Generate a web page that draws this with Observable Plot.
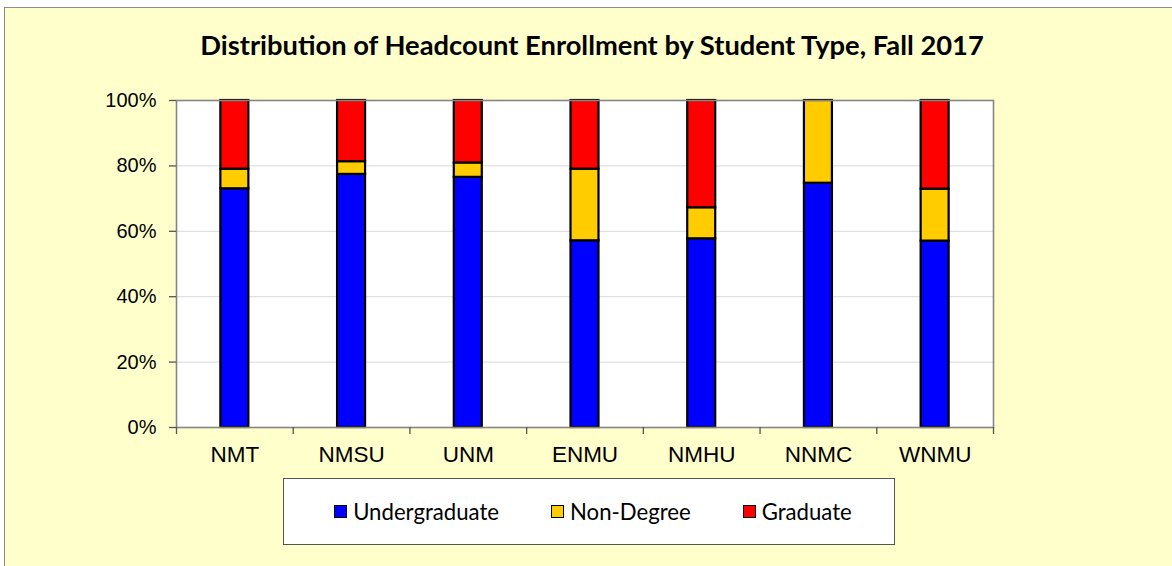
<!DOCTYPE html>
<html>
<head>
<meta charset="utf-8">
<script src="https://cdn.jsdelivr.net/npm/d3@7"></script>
<script src="https://cdn.jsdelivr.net/npm/@observablehq/plot@0.6"></script>
<style>
  html, body { margin: 0; padding: 0; background: #ffffff; }
  #page { position: relative; width: 1172px; height: 566px; overflow: hidden; }
  #panel { position: absolute; left: 4px; top: 7px; width: 1180px; height: 580px;
           background: #FFFFCC; border: 1px solid #8c8c8c; box-sizing: border-box; }
  #title { position: absolute; top: 31px; left: 592px; transform: translateX(-50%);
           white-space: nowrap; font-family: Lato, "Open Sans", sans-serif; font-weight: bold;
           font-size: 24px; color: #000; line-height: 1; }
  #chart { position: absolute; left: 0; top: 70px; }
  #legend { position: absolute; left: 283px; top: 478px; width: 612px; height: 67px;
            box-sizing: border-box; background: #fff; border: 1px solid #555;
            display: flex; align-items: center; justify-content: center; gap: 52px; padding-left: 8px;
            font-family: Lato, "Open Sans", sans-serif; font-size: 21px; color: #000; }
  .item { display: flex; align-items: center; white-space: nowrap; }
  .sw { width: 11px; height: 11px; border: 1.8px solid #000; margin-right: 6px; }
</style>
</head>
<body>
<div id="page">
  <div id="panel"></div>
  <div id="title"></div>
  <div id="chart"></div>
  <div id="legend"></div>
</div>
<script>
const titleText = "Distribution of Headcount Enrollment by Student Type, Fall 2017";
const schools = ["NMT", "NMSU", "UNM", "ENMU", "NMHU", "NNMC", "WNMU"];
const seriesNames = ["Undergraduate", "Non-Degree", "Graduate"];
const seriesColors = ["#0000FF", "#FFCC00", "#FF0000"];
const undergraduate = [73.0, 77.4, 76.5, 57.1, 57.7, 74.7, 57.0];
const nonDegree     = [6.0, 3.9, 4.4, 21.9, 9.5, 25.3, 15.9];
const graduate      = [21.0, 18.7, 19.1, 21.0, 32.8, 0.0, 27.1];
const yTicks = [0, 20, 40, 60, 80, 100];

const seriesValues = [undergraduate, nonDegree, graduate];
const rows = [];
schools.forEach((s, i) => {
  seriesNames.forEach((name, k) => {
    const v = seriesValues[k][i];
    if (v > 0) rows.push({school: s, type: name, value: v});
  });
});

const W = 1172, H = 407;
const mL = 176, mR = 179, mT = 30, mB = 50;
const step = (W - mL - mR) / schools.length;
const inset = (step - 28) / 2;

const chart = Plot.plot({
  width: W, height: H,
  marginLeft: mL, marginRight: mR, marginTop: mT, marginBottom: mB,
  style: {fontFamily: "'Liberation Sans', Arial, sans-serif", fontSize: "20px", fontWeight: "normal", background: "transparent", overflow: "visible", color: "#000"},
  x: {domain: schools, padding: 0, round: false, label: null},
  y: {domain: [0, 100], label: null},
  color: {domain: seriesNames, range: seriesColors},
  marks: [
    Plot.frame({fill: "white", stroke: "none"}),
    Plot.gridY(yTicks, {stroke: "#d9d9d9", strokeOpacity: 1, strokeWidth: 1}),
    Plot.barY(rows, {x: "school", y: "value", fill: "type", order: seriesNames,
      stroke: "#000", strokeWidth: 2.2, insetLeft: inset, insetRight: inset}),
    Plot.frame({stroke: "#858585", strokeWidth: 1.6}),
    Plot.axisY({ticks: yTicks, tickFormat: d => d + "%", tickSize: 7, tickPadding: 13,
      stroke: "#555", strokeWidth: 1.3, fontSize: 20}),
    Plot.axisX({tickSize: 0, tickPadding: 19, fontSize: 22.5}),
    Plot.axisX({tickSize: 7, tickFormat: () => "", dx: -step / 2, stroke: "#555", strokeWidth: 1.3}),
    Plot.axisX({ticks: [schools[schools.length - 1]], tickSize: 7, tickFormat: () => "", dx: step / 2, stroke: "#555", strokeWidth: 1.3})
  ]
});
document.getElementById("chart").appendChild(chart);

// Title
const title = document.getElementById("title");
title.textContent = titleText;
function fitWidth(el, target) {
  const fs = parseFloat(getComputedStyle(el).fontSize);
  const w = el.getBoundingClientRect().width;
  if (w > 0) el.style.fontSize = (fs * target / w) + "px";
}
fitWidth(title, 784);

// Legend
const legend = document.getElementById("legend");
const labelEls = [];
seriesNames.forEach((name, k) => {
  const item = document.createElement("div");
  item.className = "item";
  const sw = document.createElement("div");
  sw.className = "sw";
  sw.style.background = seriesColors[k];
  const lab = document.createElement("span");
  lab.textContent = name;
  item.appendChild(sw);
  item.appendChild(lab);
  legend.appendChild(item);
  labelEls.push(lab);
});
const lw = labelEls[0].getBoundingClientRect().width;
const lfs = parseFloat(getComputedStyle(legend).fontSize);
if (lw > 0) legend.style.fontSize = (lfs * 146 / lw) + "px";
</script>
</body>
</html>
